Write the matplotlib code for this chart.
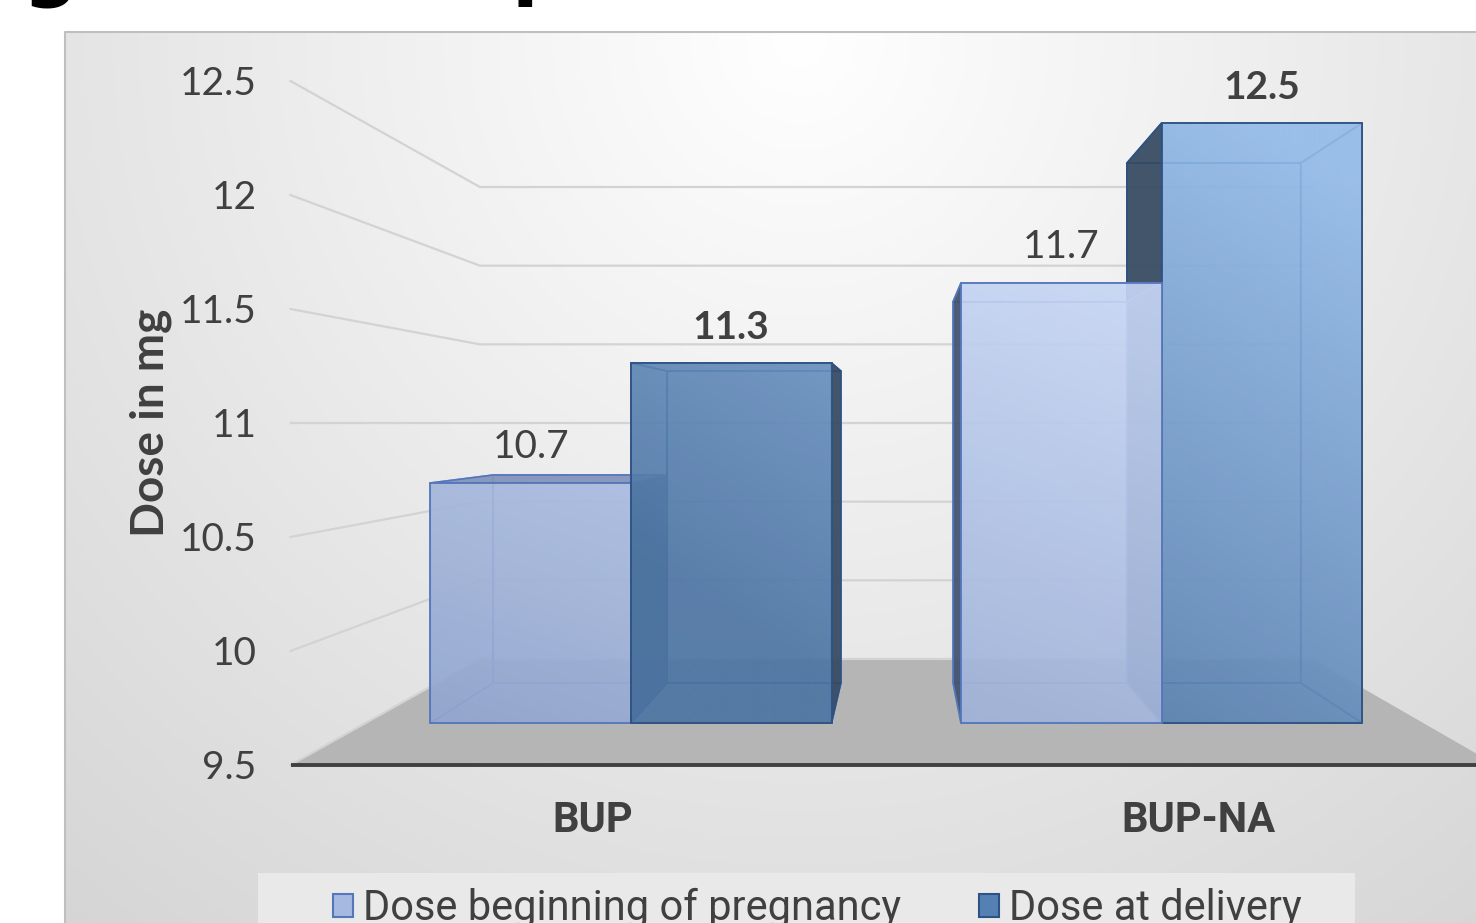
import numpy as np
import matplotlib
matplotlib.use("Agg")
import matplotlib.pyplot as plt
from matplotlib.patches import Polygon, Rectangle, Patch
from matplotlib.colors import LinearSegmentedColormap, to_rgba

# ---------------------------------------------------------------- data
categories = ["BUP", "BUP-NA"]
series_names = ["Dose beginning of pregnancy", "Dose at delivery"]
dose_begin = [10.7, 11.7]
dose_delivery = [11.3, 12.5]
y_ticks = [9.5, 10, 10.5, 11, 11.5, 12, 12.5]
y_label = "Dose in mg"

# ---------------------------------------------------------------- look
W, H = 1476, 923
TXT = "#404040"
FONT_REG = ["Lato", "DejaVu Sans"]
FONT_NARROW = ["Liberation Sans Narrow", "Roboto", "DejaVu Sans"]

# one dict per series: gradient ends, edges, side face, gradient field
styles = [
    dict(dark="#8fa3cd", light="#cddcf9", edge="#5577ba", inner="#7d98cf",
         side="#3b4e6c", top="#8090b9", bold=False,
         t0=0.27, tx=0.272, cx=-0.104, tv=0.31, cv=10.443),
    dict(dark="#4a72a0", light="#93bbe8", edge="#2e5283", inner="#4a74aa",
         side="#33465d", top="#3d5f8a", bold=True,
         t0=0.29, tx=0.454, cx=0.226, tv=0.274, cv=11.189),
]

# pseudo 3d frame (Excel style perspective)
VX, VY = 0.51, 11.0                 # vanishing point in data units
S_BAR_FRONT, S_BAR_BACK, S_WALL = 0.877, 0.760, 0.690
WALL_LEFT, WALL_RIGHT = -0.50, 1.493
BAR_W = 0.378


def proj(x, v, s):
    return (VX + (x - VX) * s, VY + (v - VY) * s)


def gradient_face(ax, verts, st, alpha, z):
    poly = Polygon(verts, closed=True, facecolor="none", edgecolor=st["edge"],
                   lw=1.3, zorder=z + 0.001)
    ax.add_patch(poly)
    xs = [p[0] for p in verts]
    vs = [p[1] for p in verts]
    gx = np.linspace(min(xs), max(xs), 200)
    gv = np.linspace(min(vs), max(vs), 300)
    X, V = np.meshgrid(gx, gv)
    T = np.clip(st["t0"] + st["tx"] * (X - st["cx"]) + st["tv"] * (V - st["cv"]), 0, 1)
    cmap = LinearSegmentedColormap.from_list("g", [st["dark"], st["light"]])
    img = cmap(T)
    img[..., 3] = alpha
    im = ax.imshow(img, extent=(min(xs), max(xs), min(vs), max(vs)), origin="lower",
                   aspect="auto", interpolation="bilinear", zorder=z)
    im.set_clip_path(poly)


def draw_bar(ax, x0, value, st, z):
    x1 = x0 + BAR_W
    v0 = y_ticks[0]
    F = [proj(x0, v0, S_BAR_FRONT), proj(x1, v0, S_BAR_FRONT),
         proj(x1, value, S_BAR_FRONT), proj(x0, value, S_BAR_FRONT)]
    B = [proj(x0, v0, S_BAR_BACK), proj(x1, v0, S_BAR_BACK),
         proj(x1, value, S_BAR_BACK), proj(x0, value, S_BAR_BACK)]
    bottom = [F[0], F[1], B[1], B[0]]
    top = [F[3], F[2], B[2], B[3]]
    left = [F[0], F[3], B[3], B[0]]
    right = [F[1], F[2], B[2], B[1]]
    if (x0 + x1) / 2 > VX:
        outer, inner = left, right
    else:
        outer, inner = right, left
    # hidden faces, seen through the transparent front
    for k, face in enumerate([B, bottom, inner]):
        ax.add_patch(Polygon(face, closed=True, facecolor=to_rgba(st["light"], 0.35),
                             edgecolor=st["inner"], lw=1.2, zorder=z + 0.01 * k))
    if value < VY:
        ax.add_patch(Polygon(top, closed=True, facecolor=to_rgba(st["top"], 0.9),
                             edgecolor=st["edge"], lw=1.2, zorder=z + 0.04))
    else:
        ax.add_patch(Polygon(top, closed=True, facecolor=to_rgba(st["light"], 0.3),
                             edgecolor=st["inner"], lw=1.2, zorder=z + 0.04))
    ax.add_patch(Polygon(outer, closed=True, facecolor=to_rgba(st["side"], 0.9),
                         edgecolor=st["edge"], lw=1.2, zorder=z + 0.05))
    gradient_face(ax, F, st, 0.88, z + 0.06)


fig = plt.figure(figsize=(W / 100, H / 100), dpi=100)

# ---------------------------------------------------------------- background (pixel coords)
bg = fig.add_axes([0, 0, 1, 1], zorder=0)
bg.set_xlim(0, W)
bg.set_ylim(H, 0)
bg.axis("off")
px, py = np.meshgrid(np.arange(65, W), np.arange(32, H))
r = np.hypot(px - 800, py - 40)
grey = np.clip(255 - 40 * (r / 1100), 0, 255) / 255
bg.imshow(np.dstack([grey, grey, grey]), extent=(65, W, H, 32), aspect="auto", zorder=0)
bg.plot([65, 65, W], [H, 32, 32], color="#bfbfbf", lw=1.5, zorder=1)
bg.add_patch(Rectangle((258, 873), 1097, 60, facecolor="#e9e9e9", edgecolor="none", zorder=1))
bg.set_xlim(0, W)
bg.set_ylim(H, 0)

# title descenders peeking in at the top edge (rest of the title is off the crop)
fig.text(22 / W, 1 + 9 / H, "g", fontsize=56, fontweight="bold", color="black",
         family=["DejaVu Sans"], va="baseline", ha="left")
fig.text(512 / W, 1 + 9 / H, "p", fontsize=56, fontweight="bold", color="black",
         family=["DejaVu Sans"], va="baseline", ha="left")

# ---------------------------------------------------------------- chart
ax = fig.add_axes([0, 0, 1, 1], zorder=1)
ax.patch.set_alpha(0)
ax.axis("off")

# floor
floor = [proj(WALL_LEFT, y_ticks[0], 1), proj(WALL_LEFT, y_ticks[0], S_WALL),
         proj(WALL_RIGHT, y_ticks[0], S_WALL), proj(WALL_RIGHT, y_ticks[0], 1)]
ax.add_patch(Polygon(floor, closed=True, facecolor="#b5b5b5", edgecolor="none", zorder=1))

# gridlines on side and back wall
for v in y_ticks:
    p0 = proj(WALL_LEFT, v, 1)
    p1 = proj(WALL_LEFT, v, S_WALL)
    p2 = proj(WALL_RIGHT, v, S_WALL)
    ax.plot([p0[0], p1[0], p2[0]], [p0[1], p1[1], p2[1]], color="#d3d3d3", lw=1.6,
            solid_joinstyle="miter", zorder=2)
    ax.annotate(f"{v:g}", xy=p0, xytext=(-34, -3), textcoords="offset pixels",
                ha="right", va="center", fontsize=28, color=TXT, family=FONT_REG)

# front floor edge (category axis)
a, b = proj(WALL_LEFT, y_ticks[0], 1), proj(WALL_RIGHT, y_ticks[0], 1)
ax.plot([a[0], b[0]], [a[1], b[1]], color="#404040", lw=2.8, zorder=3,
        solid_capstyle="butt")

# bars, farthest from the vanishing point first
bars = []
for i in range(len(categories)):
    for j, vals in enumerate([dose_begin, dose_delivery]):
        x0 = i - BAR_W + j * BAR_W
        bars.append((abs(x0 + BAR_W / 2 - VX), x0, vals[i], j))
bars.sort(key=lambda t: -t[0])
for n, (_, x0, val, j) in enumerate(bars):
    draw_bar(ax, x0, val, styles[j], 5 + n)
    tx, ty = proj(x0 + BAR_W / 2, val, S_BAR_FRONT)
    ax.annotate(f"{val:.1f}", xy=(tx, ty), xytext=(0, 36), textcoords="offset pixels",
                ha="center", va="center", fontsize=28, color=TXT, family=FONT_REG,
                fontweight="bold" if styles[j]["bold"] else "normal", zorder=20)

# category labels
for i, c in enumerate(categories):
    ax.annotate(c, xy=proj(i, y_ticks[0], 1), xytext=(0, -56), textcoords="offset pixels",
                ha="center", va="center", fontsize=30, fontweight="bold", color=TXT,
                family=FONT_NARROW)

ax.set_xlim(-593 / 605, (W - 593) / 605)
ax.set_ylim(11 - (H - 423) / 228, 11 + 423 / 228)

fig.text(151 / W, 1 - 423 / H, y_label, rotation=90, ha="center", va="center",
         fontsize=33, fontweight="bold", color=TXT, family=FONT_REG)

# legend
handles = [Patch(facecolor="#a6b9e0", edgecolor=styles[0]["edge"], lw=1.5),
           Patch(facecolor="#5580b3", edgecolor=styles[1]["edge"], lw=1.5)]
leg = fig.legend(handles, series_names, loc="upper left", bbox_to_anchor=(333 / W, 1 - 888 / H),
                 ncol=2, frameon=False, borderpad=0, borderaxespad=0,
                 handlelength=0.48, handleheight=0.5, handletextpad=0.24,
                 columnspacing=1.87, prop={"family": FONT_NARROW, "size": 30})
for t in leg.get_texts():
    t.set_color(TXT)

fig.savefig("out.png", dpi=100)
